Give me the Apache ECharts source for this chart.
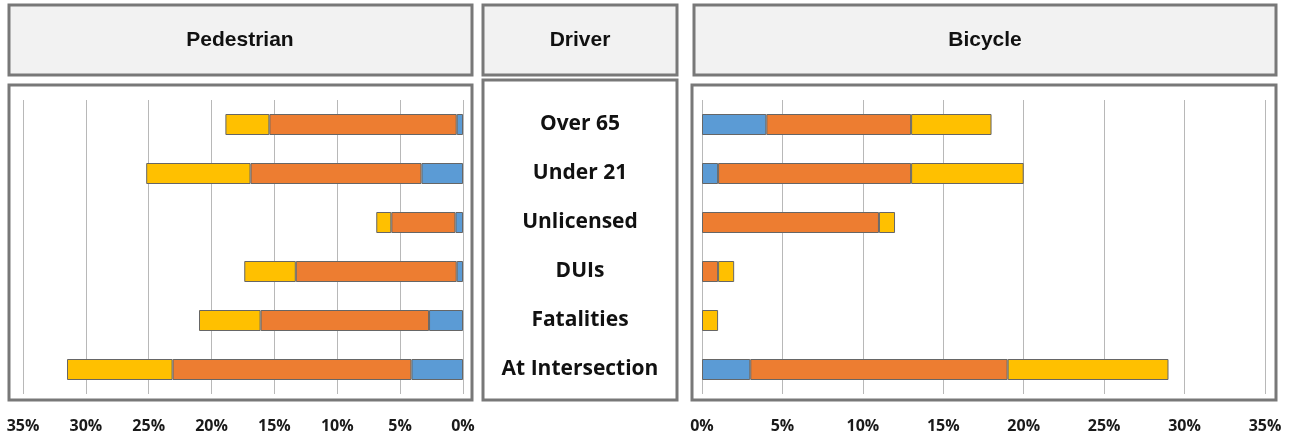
<!DOCTYPE html>
<html>
<head>
<meta charset="utf-8">
<script src="https://cdn.jsdelivr.net/npm/echarts@6/dist/echarts.min.js"></script>
<style>
html,body{margin:0;padding:0;background:#fff;}
#chart{width:1300px;height:440px;}
</style>
</head>
<body>
<div id="chart"></div>
<script>
// ---- data ----
const categories = ['Over 65', 'Under 21', 'Unlicensed', 'DUIs', 'Fatalities', 'At Intersection'];
const panelTitles = ['Pedestrian', 'Driver', 'Bicycle'];
const pedBlue   = [0.5, 3.3, 0.6, 0.5, 2.7, 4.1];
const pedOrange = [14.9, 13.6, 5.1, 12.8, 13.4, 19.0];
const pedYellow = [3.5, 8.3, 1.2, 4.1, 4.9, 8.4];
const bikeBlue   = [4, 1, 0, 0, 0, 3];
const bikeOrange = [9, 12, 11, 1, 0, 16];
const bikeYellow = [5, 7, 1, 1, 1, 10];
const axisMax = 35;
const axisStep = 5;

// ---- styling ----
const colors = {blue: '#5b9bd5', orange: '#ed7d31', yellow: '#ffc000'};
const boxColor = '#787878';
const tickFont = {fontFamily: 'Open Sans', fontWeight: 'bold', fontSize: 16, color: '#1a1a1a'};

function clean(arr) { return arr.map(v => v === 0 ? '-' : v); }
function barSeries(name, data, color, idx, stack) {
  return {
    type: 'bar', name: name, stack: stack, data: clean(data),
    xAxisIndex: idx, yAxisIndex: idx, barWidth: 21,
    itemStyle: {color: color, borderColor: '#666666', borderWidth: 1},
    emphasis: {disabled: true}
  };
}
function xAx(idx, inverse) {
  return {
    type: 'value', gridIndex: idx, min: 0, max: axisMax, interval: axisStep, inverse: inverse,
    axisLine: {show: false}, axisTick: {show: false},
    splitLine: {show: true, lineStyle: {color: '#b8b8b8', width: 1}},
    axisLabel: Object.assign({formatter: '{value}%', margin: 24}, tickFont)
  };
}

const chart = echarts.init(document.getElementById('chart'), null, {renderer: 'canvas'});
const option = {
  animation: false,
  backgroundColor: '#ffffff',
  grid: [
    {left: 23, top: 100, width: 440, height: 294},
    {left: 702, top: 100, width: 563, height: 294}
  ],
  xAxis: [xAx(0, true), xAx(1, false)],
  yAxis: [
    {type: 'category', gridIndex: 0, data: categories, inverse: true,
     axisLine: {show: false}, axisTick: {show: false}, axisLabel: {show: false}},
    {type: 'category', gridIndex: 1, data: categories, inverse: true,
     axisLine: {show: false}, axisTick: {show: false},
     axisLabel: {align: 'center', margin: 122, fontFamily: 'Open Sans', fontWeight: 'bold',
                 fontSize: 21, color: '#111'}}
  ],
  series: [
    barSeries('ped-blue', pedBlue, colors.blue, 0, 'ped'),
    barSeries('ped-orange', pedOrange, colors.orange, 0, 'ped'),
    barSeries('ped-yellow', pedYellow, colors.yellow, 0, 'ped'),
    barSeries('bike-blue', bikeBlue, colors.blue, 1, 'bike'),
    barSeries('bike-orange', bikeOrange, colors.orange, 1, 'bike'),
    barSeries('bike-yellow', bikeYellow, colors.yellow, 1, 'bike')
  ],
  graphic: [
    // header boxes
    {type: 'rect', shape: {x: 9, y: 5, width: 463, height: 70}, style: {fill: '#f2f2f2', stroke: boxColor, lineWidth: 3}, z: 0},
    {type: 'rect', shape: {x: 483, y: 5, width: 194, height: 70}, style: {fill: '#f2f2f2', stroke: boxColor, lineWidth: 3}, z: 0},
    {type: 'rect', shape: {x: 694, y: 5, width: 582, height: 70}, style: {fill: '#f2f2f2', stroke: boxColor, lineWidth: 3}, z: 0},
    // panel boxes
    {type: 'rect', shape: {x: 9, y: 85, width: 463, height: 315}, style: {fill: 'none', stroke: boxColor, lineWidth: 3}, z: 10},
    {type: 'rect', shape: {x: 483, y: 80, width: 194, height: 320}, style: {fill: 'none', stroke: boxColor, lineWidth: 3}, z: 10},
    {type: 'rect', shape: {x: 692, y: 85, width: 584, height: 315}, style: {fill: 'none', stroke: boxColor, lineWidth: 3}, z: 10},
    // header titles
    {type: 'text', x: 240, y: 40, z: 11, style: {text: panelTitles[0], align: 'center', verticalAlign: 'middle', font: 'bold 21px "Liberation Sans", Arial, sans-serif', fill: '#111'}},
    {type: 'text', x: 580, y: 40, z: 11, style: {text: panelTitles[1], align: 'center', verticalAlign: 'middle', font: 'bold 21px "Liberation Sans", Arial, sans-serif', fill: '#111'}},
    {type: 'text', x: 985, y: 40, z: 11, style: {text: panelTitles[2], align: 'center', verticalAlign: 'middle', font: 'bold 21px "Liberation Sans", Arial, sans-serif', fill: '#111'}}
  ]
};
chart.setOption(option);
</script>
</body>
</html>
